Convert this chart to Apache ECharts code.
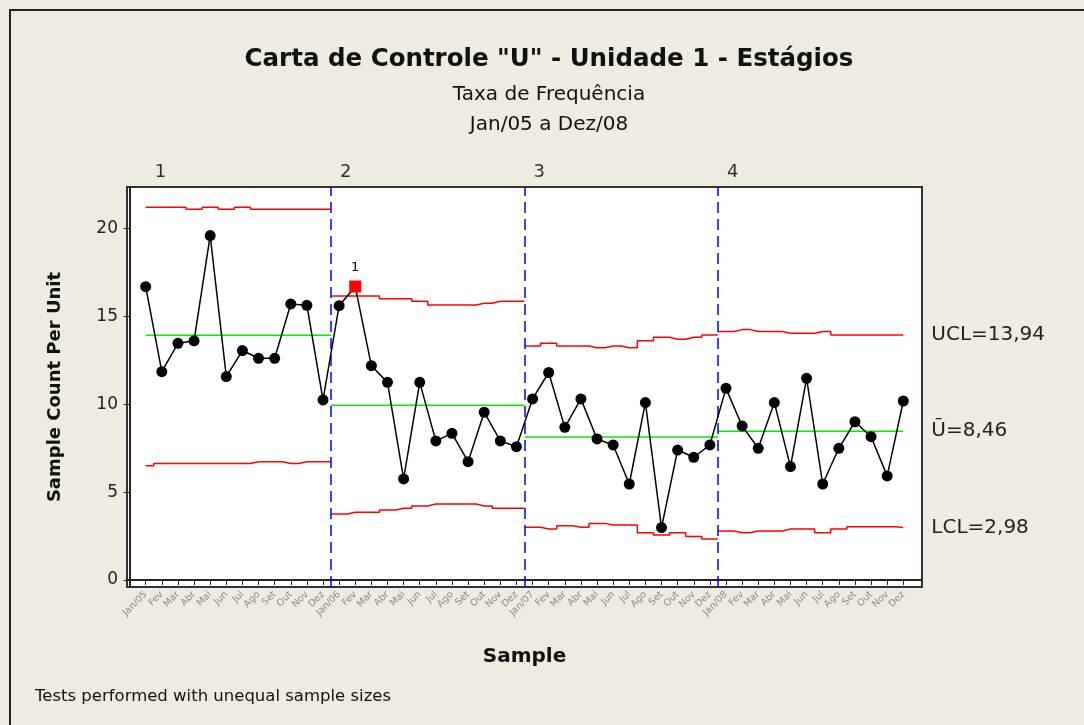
<!DOCTYPE html>
<html>
<head>
<meta charset="utf-8">
<script src="https://cdn.jsdelivr.net/npm/echarts@6/dist/echarts.min.js"></script>
<style>
  html, body { margin: 0; padding: 0; background: #efebe0; }
  #chart { width: 1084px; height: 725px; }
</style>
</head>
<body>
<div id="chart"></div>
<script>
// rótulos do eixo X (48 meses)
let tickLabels = [
    'Jan/05', 'Fev', 'Mar', 'Abr', 'Mai', 'Jun', 'Jul', 'Ago', 'Set', 'Out', 'Nov', 'Dez',
    'Jan/06', 'Fev', 'Mar', 'Abr', 'Mai', 'Jun', 'Jul', 'Ago', 'Set', 'Out', 'Nov', 'Dez',
    'Jan/07', 'Fev', 'Mar', 'Abr', 'Mai', 'Jun', 'Jul', 'Ago', 'Set', 'Out', 'Nov', 'Dez',
    'Jan/08', 'Fev', 'Mar', 'Abr', 'Mai', 'Jun', 'Jul', 'Ago', 'Set', 'Out', 'Nov', 'Dez'
];

// valores U por amostra
let uValues = [
    16.68, 11.85, 13.46, 13.60, 19.59, 11.57, 13.05, 12.61, 12.61, 15.70, 15.62, 10.24,
    15.60, 16.69, 12.19, 11.24, 5.75, 11.24, 7.91, 8.34, 6.73, 9.54, 7.91, 7.58,
    10.30, 11.80, 8.68, 10.30, 8.02, 7.68, 5.46, 10.09, 2.98, 7.39, 6.98, 7.68,
    10.90, 8.76, 7.49, 10.09, 6.45, 11.47, 5.46, 7.49, 9.00, 8.15, 5.92, 10.18
];

// limites de controle (variam com o tamanho da amostra)
let uclValues = [
    21.20, 21.20, 21.20, 21.08, 21.20, 21.08, 21.20, 21.08, 21.08, 21.08, 21.08, 21.08,
    16.15, 16.15, 16.15, 16.00, 16.00, 15.85, 15.64, 15.64, 15.64, 15.74, 15.85, 15.85,
    13.31, 13.46, 13.31, 13.31, 13.21, 13.31, 13.21, 13.60, 13.80, 13.69, 13.80, 13.94,
    14.13, 14.24, 14.13, 14.13, 14.03, 14.03, 14.13, 13.94, 13.94, 13.94, 13.94, 13.94
];
let lclValues = [
    6.50, 6.62, 6.62, 6.62, 6.62, 6.62, 6.62, 6.73, 6.73, 6.62, 6.73, 6.73,
    3.75, 3.85, 3.85, 3.98, 4.08, 4.21, 4.32, 4.32, 4.32, 4.21, 4.08, 4.08,
    3.00, 2.90, 3.09, 3.00, 3.22, 3.13, 3.13, 2.69, 2.56, 2.69, 2.47, 2.33,
    2.79, 2.69, 2.79, 2.79, 2.90, 2.90, 2.69, 2.90, 3.03, 3.03, 3.03, 2.98
];

// estágios
let stageNames = ['1', '2', '3', '4'];
let stageCenter = [13.92, 9.94, 8.13, 8.46];
let stageStart = [1, 12.5, 24.5, 36.5];
let stageEnd = [12.5, 24.5, 36.5, 48];
let stageSize = 12;

let failIndex = 13; // ponto fora de controle (teste 1)
let yTicks = [0, 5, 10, 15, 20];
let xTicks = tickLabels.map((_, i) => i + 1);

let font = 'DejaVu Sans';

// série principal
let mainData = uValues.map((v, i) => {
    if (i === failIndex) {
        return {
            value: [i + 1, v],
            symbol: 'rect',
            symbolSize: 12,
            itemStyle: { color: '#ff0000' },
            label: { show: true, position: 'top', distance: 6, formatter: '1', color: '#000', fontSize: 13, fontFamily: font }
        };
    }
    return [i + 1, v];
});

// monta os degraus de cada estágio
function stepData(values, s) {
    let arr = [];
    let first = s * stageSize;
    let last = first + stageSize - 1;
    arr.push([stageStart[s], values[first]]);
    for (let i = first; i <= last; i++) arr.push([i + 1, values[i]]);
    arr.push([stageEnd[s], values[last]]);
    return arr;
}

let series = [];
let endLabels = ['UCL=13,94', 'Ū=8,46', 'LCL=2,98'];

for (let s = 0; s < 4; s++) {
    let isLast = s === 3;
    let mk = function (txt) {
        return {
            show: isLast,
            formatter: txt,
            distance: 28,
            color: '#222',
            fontSize: 20,
            fontFamily: font
        };
    };
    series.push({
        type: 'line', step: 'middle', symbol: 'none', silent: true, z: 2,
        lineStyle: { color: '#ff0000', width: 1.5 },
        data: stepData(uclValues, s),
        endLabel: mk(endLabels[0])
    });
    series.push({
        type: 'line', symbol: 'none', silent: true, z: 2,
        lineStyle: { color: '#00ee00', width: 1.5 },
        data: [[stageStart[s], stageCenter[s]], [stageEnd[s], stageCenter[s]]],
        endLabel: mk(endLabels[1])
    });
    series.push({
        type: 'line', step: 'middle', symbol: 'none', silent: true, z: 2,
        lineStyle: { color: '#ff0000', width: 1.5 },
        data: stepData(lclValues, s),
        endLabel: mk(endLabels[2])
    });
}

// divisões de estágio + rótulos
series.push({
    type: 'scatter',
    symbolSize: 0,
    clip: false,
    silent: true,
    data: stageStart.map((x, i) => ({ value: [x, 23.2], name: stageNames[i] })),
    label: {
        show: true, position: 'right', distance: 9,
        formatter: p => p.name, color: '#000', fontSize: 18, fontFamily: font
    },
    markLine: {
        silent: true,
        symbol: 'none',
        label: { show: false },
        lineStyle: { color: '#0000ff', type: [11, 6], width: 1.5 },
        data: stageStart.slice(1).map(x => ({ xAxis: x }))
    }
});

series.push({
    type: 'line',
    z: 5,
    data: mainData,
    symbol: 'circle',
    symbolSize: 11,
    lineStyle: { color: '#000', width: 1.5 },
    itemStyle: { color: '#000' }
});

let option = {
    backgroundColor: '#efebe0',
    animation: false,
    grid: {
        left: 127, right: 162, top: 187, bottom: 138,
        show: true, backgroundColor: '#ffffff', borderColor: '#333', borderWidth: 2
    },
    xAxis: {
        type: 'value',
        min: -0.16, max: 49.16,
        name: 'Sample',
        nameLocation: 'middle',
        nameGap: 60,
        nameTextStyle: { fontFamily: font, fontWeight: 'bold', fontSize: 20, color: '#111' },
        axisLine: { show: true, lineStyle: { color: '#222', width: 2 } },
        axisTick: { show: true, customValues: xTicks, length: 5, lineStyle: { color: '#222' } },
        axisLabel: {
            customValues: xTicks,
            formatter: v => tickLabels[v - 1],
            rotate: 45, fontSize: 9.5, color: '#8a8a8a', fontFamily: font, margin: 6
        },
        splitLine: { show: false }
    },
    yAxis: {
        type: 'value',
        min: -0.398, max: 22.35,
        name: 'Sample Count Per Unit',
        nameLocation: 'middle',
        nameGap: 63,
        nameTextStyle: { fontFamily: font, fontWeight: 'bold', fontSize: 18, color: '#111' },
        axisLine: { show: true, lineStyle: { color: '#222', width: 2 } },
        axisTick: { show: true, customValues: yTicks, length: 6, lineStyle: { color: '#222' } },
        axisLabel: { customValues: yTicks, fontSize: 17, color: '#222', fontFamily: font, margin: 9 },
        splitLine: { show: false }
    },
    graphic: [
        { type: 'rect', shape: { x: 10, y: 10, width: 1200, height: 900 }, style: { fill: null, stroke: '#222', lineWidth: 2 }, silent: true },
        { type: 'text', x: 549, y: 60, style: { text: 'Carta de Controle "U" - Unidade 1 - Estágios', fontFamily: font, fontWeight: 'bold', fontSize: 24.5, fill: '#111', textAlign: 'center', textVerticalAlign: 'middle' } },
        { type: 'text', x: 549, y: 95, style: { text: 'Taxa de Frequência', fontFamily: font, fontSize: 20, fill: '#111', textAlign: 'center', textVerticalAlign: 'middle' } },
        { type: 'text', x: 549, y: 125, style: { text: 'Jan/05 a Dez/08', fontFamily: font, fontSize: 20, fill: '#111', textAlign: 'center', textVerticalAlign: 'middle' } },
        { type: 'text', x: 35, y: 697, style: { text: 'Tests performed with unequal sample sizes', fontFamily: font, fontSize: 16.5, fill: '#111', textAlign: 'left', textVerticalAlign: 'middle' } }
    ],
    series: series
};

var dom = document.getElementById('chart');
var myChart = echarts.init(dom);
myChart.setOption(option, true);
</script>
</body>
</html>
